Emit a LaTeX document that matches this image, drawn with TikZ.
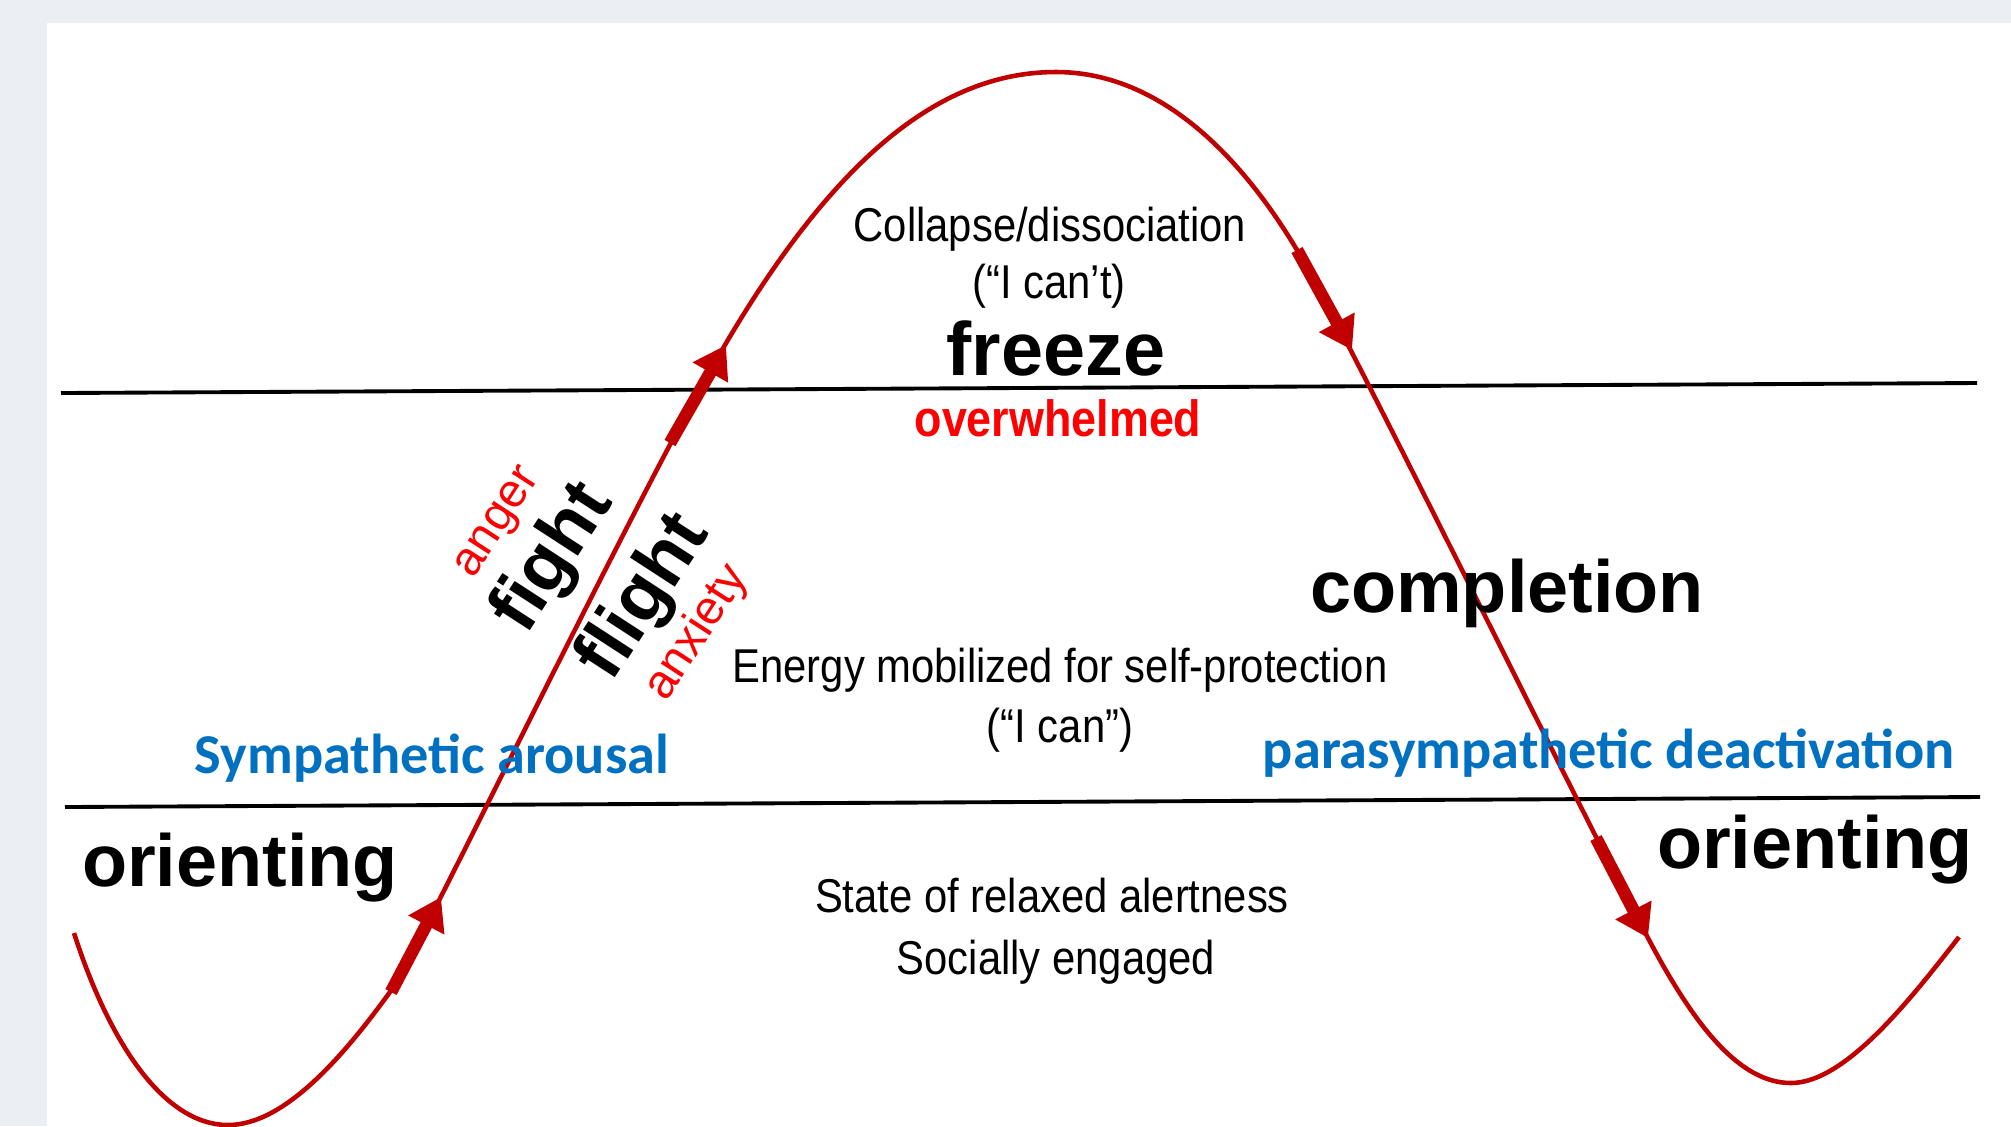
\documentclass[tikz,border=0pt]{standalone}
\usepackage{fontspec}
\setmainfont{Liberation Sans}
\newfontfamily\narrowfont[FakeStretch=0.88]{Liberation Sans}
\newfontfamily\calibrifont{Carlito}
\usetikzlibrary{arrows.meta}
\definecolor{WaveRed}{HTML}{C00000}
\definecolor{AlarmRed}{HTML}{FF0000}
\definecolor{NerveBlue}{HTML}{0070C0}
\definecolor{PanelGrey}{HTML}{EBEEF3}
\tikzset{
  bigword/.style={font=\bfseries\fontsize{21}{25}\selectfont,inner sep=0pt},
  thinword/.style={font=\narrowfont\fontsize{13.5}{17}\selectfont,inner sep=0pt,anchor=base},
  redword/.style={text=AlarmRed,font=\fontsize{13.5}{17}\selectfont,inner sep=0pt},
  blueword/.style={text=NerveBlue,font=\calibrifont\bfseries\fontsize{16}{19}\selectfont,inner sep=0pt,anchor=base},
  wave/.style={WaveRed,line width=1.3pt,line join=round},
  flowarrow/.style={WaveRed,line width=3.6pt,-{Triangle[length=9pt,width=11pt]}},
  levelline/.style={black,line width=1.1pt}
}

\begin{document}
\begin{tikzpicture}[x=0.01cm,y=-0.01cm]
  \useasboundingbox (0,0) rectangle (2011,1126);
  \fill[PanelGrey] (0,0) rectangle (2011,1126);
  \fill[white] (47,23) rectangle (2011,1126);
  % level lines
  \draw[levelline] (61,393) -- (1977,383);
  \draw[levelline] (65,807) -- (1980,797);
  % the wave
  \draw[wave] (74,933) .. controls (110,1045) and (165,1125) .. (228,1125)
    .. controls (285,1125) and (345,1055) .. (395,985)
    .. controls (445,895) and (640,490) .. (722,350)
    .. controls (830,165) and (936,72) .. (1056,72)
    .. controls (1156,72) and (1237,150) .. (1297,250)
    .. controls (1345,330) and (1580,810) .. (1648,938)
    .. controls (1695,1027) and (1740,1083) .. (1791,1083)
    .. controls (1845,1083) and (1910,1000) .. (1959,937);
  \coordinate (up1a) at (391,992);
  \coordinate (up1b) at (441,897);
  \coordinate (up2a) at (670,443);
  \coordinate (up2b) at (726,345);
  \coordinate (down1a) at (1297,250);
  \coordinate (down1b) at (1352,350);
  \coordinate (down2a) at (1596,838);
  \coordinate (down2b) at (1648,938);
  \draw[flowarrow] (up1a) -- (up1b);
  \draw[flowarrow] (up2a) -- (up2b);
  \draw[flowarrow] (down1a) -- (down1b);
  \draw[flowarrow] (down2a) -- (down2b);
  % labels
  \node[bigword,anchor=base] (orientL) at (240,886) {orienting};
  \node[bigword,anchor=base] (orientR) at (1815,868) {orienting};
  \node[bigword,anchor=base] (completion) at (1507,612) {completion};
  \node[bigword,anchor=base,font=\bfseries\fontsize{21.5}{25}\selectfont] (freeze) at (1056,375) {freeze};
  \node[bigword,rotate=57] (fight) at (554,559) {fight};
  \node[bigword,rotate=57] (flight) at (645,598) {flight};
  \node[redword,rotate=57] (anger) at (500,524) {anger};
  \node[redword,rotate=57] (anxiety) at (697,633) {anxiety};
  \node[redword,anchor=base,font=\narrowfont\bfseries\fontsize{14.5}{17}\selectfont] (overwhelmed) at (1058,436) {overwhelmed};
  \node[thinword] (collapse) at (1050,241) {Collapse/dissociation};
  \node[thinword] (icant) at (1049,298) {(“I can’t)};
  \node[thinword] (energy) at (1060,682) {Energy mobilized for self-protection};
  \node[thinword] (ican) at (1060,742) {(“I can”)};
  \node[thinword] (relaxed) at (1052,912) {State of relaxed alertness};
  \node[thinword] (social) at (1056,974) {Socially engaged};
  \node[blueword] (sympathetic) at (432,773) {Sympathetic arousal};
  \node[blueword] (parasympathetic) at (1609,768) {parasympathetic deactivation};
\end{tikzpicture}
\end{document}
